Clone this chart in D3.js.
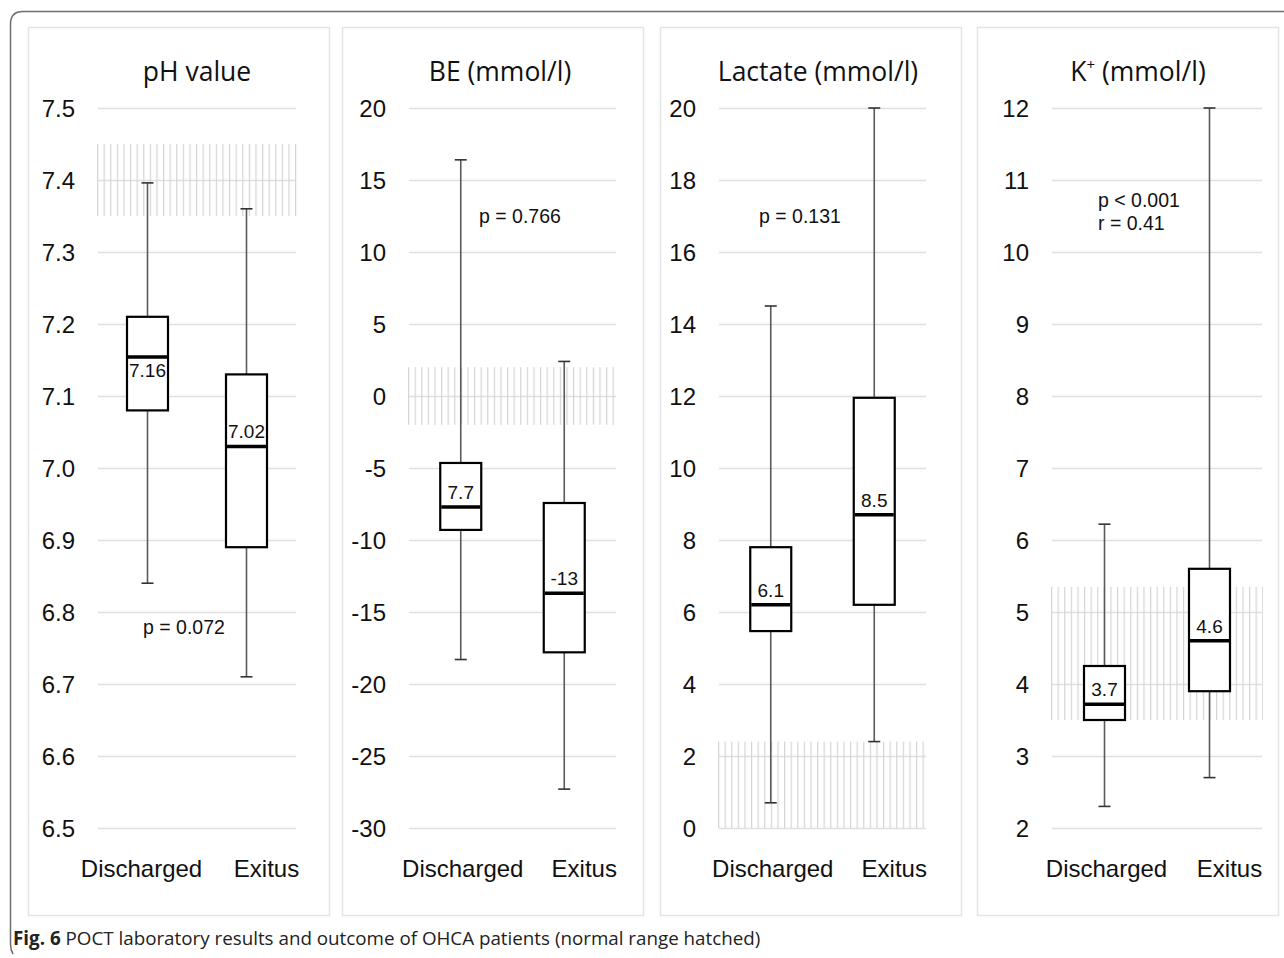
<!DOCTYPE html>
<html lang="en">
<head>
    <meta charset="UTF-8">
    <title>POCT laboratory results and outcome</title>
    <script src="https://d3js.org/d3.v7.min.js"></script>
    <style>
        body { margin: 0; background: #fff; }
        svg { display: block; }
    </style>
</head>
<body>
    <svg id="chart"></svg>

    <script>
        // ---- data ----
        const groups = ["Discharged", "Exitus"];
        const panelTitles = ["pH value", "BE (mmol/l)", "Lactate (mmol/l)", "K"];

        // [min, q1, median, q3, max] for Discharged / Exitus
        const phStats = [[6.84, 7.08, 7.154, 7.21, 7.396], [6.71, 6.89, 7.03, 7.13, 7.36]];
        const beStats = [[-18.3, -9.3, -7.7, -4.65, 16.4], [-27.3, -17.8, -13.7, -7.43, 2.4]];
        const lactateStats = [[0.7, 5.47, 6.2, 7.8, 14.5], [2.4, 6.2, 8.7, 11.95, 20]];
        const potassiumStats = [[2.3, 3.5, 3.72, 4.25, 6.22], [2.7, 3.9, 4.6, 5.6, 12]];

        const medianLabels = [["7.16", "7.02"], ["7.7", "-13"], ["6.1", "8.5"], ["3.7", "4.6"]];
        const normalRanges = [[7.35, 7.45], [-2, 2], [0, 2.4], [3.5, 5.35]];
        const yDomains = [[6.5, 7.5], [-30, 20], [0, 20], [2, 12]];
        const statTexts = [["p = 0.072"], ["p = 0.766"], ["p = 0.131"], ["p < 0.001", "r = 0.41"]];
        const statTextValues = [6.77, 12.0, 16.8, 10.62];

        const allStats = [phStats, beStats, lactateStats, potassiumStats];

        // ---- layout ----
        const width = 1284, height = 958;
        const panelLeft = [28, 342, 660, 977];
        const panelW = 301, panelTop = 27, panelBottom = 915;
        const plotX0 = [98, 409, 719, 1052];
        const plotX1 = [296, 616, 926, 1262];
        const titleX = [197, 500, 818, 1138];
        const statX = [143, 479, 759, 1098];
        const yTop = 108, yBottom = 828;
        const boxW = 41;
        const sans = "'Liberation Sans', Arial, sans-serif";

        const svg = d3.select("#chart")
            .attr("width", width)
            .attr("height", height)
            .attr("viewBox", [0, 0, width, height]);

        // outer figure frame (top + left with rounded corner)
        svg.append("path")
            .attr("fill", "none")
            .attr("stroke", "#6e6e6e")
            .attr("stroke-width", 1.5)
            .attr("d", "M1284,11.5 H23 Q10.5,11.5 10.5,24 V944 Q10.5,950 13,954");

        const defs = svg.append("defs");

        allStats.forEach((stats, i) => {
            const x0 = plotX0[i], x1 = plotX1[i];
            const y = d3.scaleLinear().domain(yDomains[i]).range([yBottom, yTop]);
            const x = d3.scalePoint().domain(groups).range([x0, x1]).padding(0.5);

            const g = svg.append("g");

            // panel border
            g.append("rect")
                .attr("x", panelLeft[i] + 0.5)
                .attr("y", panelTop + 0.5)
                .attr("width", panelW)
                .attr("height", panelBottom - panelTop)
                .attr("fill", "#fff")
                .attr("stroke", "#e4e4e4")
                .attr("stroke-width", 1.5);

            // title
            const title = g.append("text")
                .attr("x", titleX[i])
                .attr("y", 81)
                .attr("text-anchor", "middle")
                .attr("font-family", "'Open Sans', sans-serif")
                .attr("font-size", 26.5)
                .attr("fill", "#111")
                .text(panelTitles[i]);
            if (i === 3) {
                title.append("tspan").attr("font-size", 15).attr("dy", -11).text("+");
                title.append("tspan").attr("dy", 11).text(" (mmol/l)");
            }

            // gridlines
            const ticks = y.ticks(10);
            g.append("g")
                .selectAll("line")
                .data(ticks)
                .join("line")
                .attr("x1", x0)
                .attr("x2", x1)
                .attr("y1", d => Math.round(y(d)) + 0.5)
                .attr("y2", d => Math.round(y(d)) + 0.5)
                .attr("stroke", "#e0e0e0")
                .attr("stroke-width", 1.5);

            // hatched normal range
            const pid = "hatch" + i;
            defs.append("pattern")
                .attr("id", pid)
                .attr("patternUnits", "userSpaceOnUse")
                .attr("x", x0 - 1)
                .attr("y", 0)
                .attr("width", 6.6)
                .attr("height", 10)
                .append("line")
                .attr("x1", 0.6).attr("x2", 0.6)
                .attr("y1", 0).attr("y2", 10)
                .attr("stroke", "#d4d4d4")
                .attr("stroke-width", 1.2);
            const [lo, hi] = normalRanges[i];
            g.append("rect")
                .attr("x", x0 - 1)
                .attr("y", y(hi))
                .attr("width", x1 - x0 + 2)
                .attr("height", y(lo) - y(hi))
                .attr("fill", `url(#${pid})`);

            // y axis labels
            const axis = d3.axisLeft(y)
                .ticks(10)
                .tickSize(0)
                .tickPadding(0)
                .tickFormat(i === 0 ? d3.format(".1f") : d => String(d));
            const ax = g.append("g")
                .attr("transform", `translate(${x0 - 23},0)`)
                .call(axis);
            ax.select(".domain").remove();
            ax.selectAll("text")
                .attr("font-family", sans)
                .attr("font-size", 24)
                .attr("fill", "#111")
                .attr("dy", "0.36em");

            // boxes
            const boxes = g.append("g")
                .selectAll("g")
                .data(stats)
                .join("g");

            boxes.append("line")
                .attr("x1", (d, j) => x(groups[j]))
                .attr("x2", (d, j) => x(groups[j]))
                .attr("y1", d => y(d[0]))
                .attr("y2", d => y(d[4]))
                .attr("stroke", "#5a5a5a")
                .attr("stroke-width", 1.6);

            [0, 4].forEach(k => {
                boxes.append("line")
                    .attr("x1", (d, j) => x(groups[j]) - 6)
                    .attr("x2", (d, j) => x(groups[j]) + 6)
                    .attr("y1", d => y(d[k]))
                    .attr("y2", d => y(d[k]))
                    .attr("stroke", "#333")
                    .attr("stroke-width", 1.6);
            });

            boxes.append("rect")
                .attr("x", (d, j) => x(groups[j]) - boxW / 2)
                .attr("y", d => y(d[3]))
                .attr("width", boxW)
                .attr("height", d => y(d[1]) - y(d[3]))
                .attr("fill", "#fff")
                .attr("stroke", "#000")
                .attr("stroke-width", 2.2);

            boxes.append("line")
                .attr("x1", (d, j) => x(groups[j]) - boxW / 2 + 1)
                .attr("x2", (d, j) => x(groups[j]) + boxW / 2 - 1)
                .attr("y1", d => y(d[2]))
                .attr("y2", d => y(d[2]))
                .attr("stroke", "#000")
                .attr("stroke-width", 3.5);

            boxes.append("text")
                .attr("x", (d, j) => x(groups[j]))
                .attr("y", (d, j) => y(d[2]) + (i === 0 && j === 0 ? 20 : -8))
                .attr("text-anchor", "middle")
                .attr("font-family", sans)
                .attr("font-size", 19)
                .attr("fill", "#111")
                .text((d, j) => medianLabels[i][j]);

            // category labels
            g.append("g")
                .selectAll("text")
                .data(groups)
                .join("text")
                .attr("x", (d, j) => x(d) + (j === 1 ? 20 : (i === 0 ? -6 : 2)))
                .attr("y", 877)
                .attr("text-anchor", "middle")
                .attr("font-family", sans)
                .attr("font-size", 24)
                .attr("fill", "#111")
                .text(d => d);

            // statistics text
            g.append("g")
                .selectAll("text")
                .data(statTexts[i])
                .join("text")
                .attr("x", statX[i])
                .attr("y", (d, k) => y(statTextValues[i]) + k * 23)
                .attr("font-family", sans)
                .attr("font-size", 19.5)
                .attr("fill", "#111")
                .text(d => d);
        });

        // caption
        const cap = svg.append("text")
            .attr("x", 13)
            .attr("y", 945)
            .attr("font-family", "'Open Sans', sans-serif")
            .attr("font-size", 18.8)
            .attr("fill", "#222");
        cap.append("tspan").attr("font-weight", "bold").text("Fig. 6");
        cap.append("tspan").text("  POCT laboratory results and outcome of OHCA patients (normal range hatched)");
    </script>
</body>
</html>
